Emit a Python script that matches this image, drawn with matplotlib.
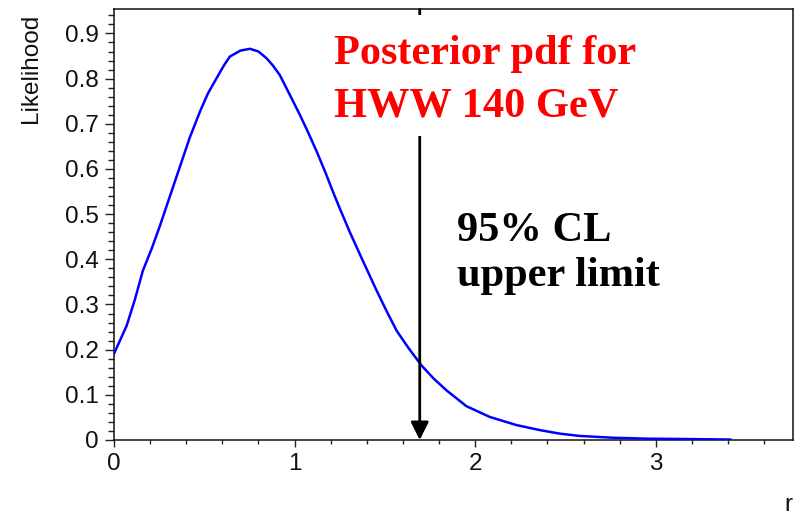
import numpy as np
import matplotlib.pyplot as plt
from matplotlib.patches import Rectangle
from matplotlib.ticker import MultipleLocator

# --- Posterior likelihood curve ---
r_vals = [0.0, 0.035, 0.07, 0.115, 0.16, 0.21, 0.255, 0.31, 0.365, 0.42,
          0.476, 0.52, 0.568, 0.61, 0.642, 0.70, 0.753, 0.80, 0.845, 0.88,
          0.918, 0.97, 1.029, 1.075, 1.122, 1.17, 1.214, 1.251, 1.306, 1.38,
          1.454, 1.51, 1.565, 1.63, 1.703, 1.77, 1.841, 1.951, 2.081, 2.229,
          2.357, 2.47, 2.579, 2.763, 2.948, 3.2, 3.413]
like_vals = [0.191, 0.222, 0.253, 0.31, 0.375, 0.425, 0.475, 0.54, 0.605,
             0.67, 0.727, 0.767, 0.801, 0.830, 0.849, 0.862, 0.866, 0.860,
             0.845, 0.829, 0.808, 0.767, 0.720, 0.681, 0.639, 0.593, 0.548,
             0.512, 0.460, 0.395, 0.331, 0.285, 0.242, 0.204, 0.165, 0.136,
             0.110, 0.075, 0.051, 0.033, 0.022, 0.014, 0.009, 0.005, 0.003,
             0.002, 0.001]
upper_limit = 1.693

title_lines = ["Posterior pdf for", "HWW 140 GeV"]
cl_lines = ["95% CL", "upper limit"]

plt.rcParams["font.family"] = ["Liberation Sans", "DejaVu Sans"]

fig = plt.figure(figsize=(7.94, 5.16), dpi=100)
ax = fig.add_axes([114 / 794, 1 - 440 / 516, 679 / 794, 430.5 / 516])

ax.plot(r_vals, like_vals, color="#0000ff", lw=1.8, zorder=3,
        solid_joinstyle="round")

ax.set_xlim(0, 3.76)
ax.set_ylim(0, 0.953)

ax.xaxis.set_major_locator(MultipleLocator(1))
ax.xaxis.set_minor_locator(MultipleLocator(0.2))
ax.yaxis.set_major_locator(MultipleLocator(0.1))
ax.yaxis.set_minor_locator(MultipleLocator(0.02))
ax.yaxis.set_major_formatter(plt.FuncFormatter(
    lambda v, p: "0" if abs(v) < 1e-9 else f"{v:.1f}"))

ax.tick_params(axis="y", which="major", length=6.7, width=1.0,
               labelsize=17.5, pad=4.5, direction="out", colors="#222222")
ax.tick_params(axis="y", which="minor", length=4.3, width=1.0,
               direction="out", colors="#222222")
ax.tick_params(axis="x", which="major", length=5, width=1.0,
               labelsize=17.5, pad=4, direction="out", colors="#222222")
ax.tick_params(axis="x", which="minor", length=2.9, width=1.0,
               direction="out", colors="#222222")
ax.tick_params(labelcolor="#111111")
for s in ax.spines.values():
    s.set_linewidth(1.1)
    s.set_color("#111111")

# arrow for the 95% CL upper limit
ax.annotate("", xy=(upper_limit, 0), xytext=(upper_limit, 0.953),
            arrowprops=dict(arrowstyle="-|>", color="black", lw=2.0,
                            mutation_scale=27, shrinkA=0, shrinkB=0),
            zorder=4)

# white patch behind the title text (hides the arrow shaft there)
ax.add_patch(Rectangle((1.2, 0.673), 1.75, 0.268, facecolor="white",
                       edgecolor="none", zorder=5))

serif = ["Liberation Serif", "DejaVu Serif"]
ax.text(1.218, 0.832, title_lines[0], color="#ff0000", fontsize=30.5,
        fontweight="bold", family=serif, va="baseline", zorder=6)
ax.text(1.218, 0.717, title_lines[1], color="#ff0000", fontsize=30.5,
        fontweight="bold", family=serif, va="baseline", zorder=6)
ax.text(1.897, 0.441, cl_lines[0], color="black", fontsize=30.5,
        fontweight="bold", family=serif, va="baseline", zorder=6)
ax.text(1.897, 0.342, cl_lines[1], color="black", fontsize=30.5,
        fontweight="bold", family=serif, va="baseline", zorder=6)

fig.text(30.7 / 794, 1 - 14 / 516, "Likelihood", rotation=90,
         ha="center", va="top", fontsize=17.5, color="#111111")
fig.text(788 / 794, 1 - 505 / 516, "r", ha="center", va="center",
         fontsize=17.5, color="#111111")

fig.savefig("out.png", dpi=100)
